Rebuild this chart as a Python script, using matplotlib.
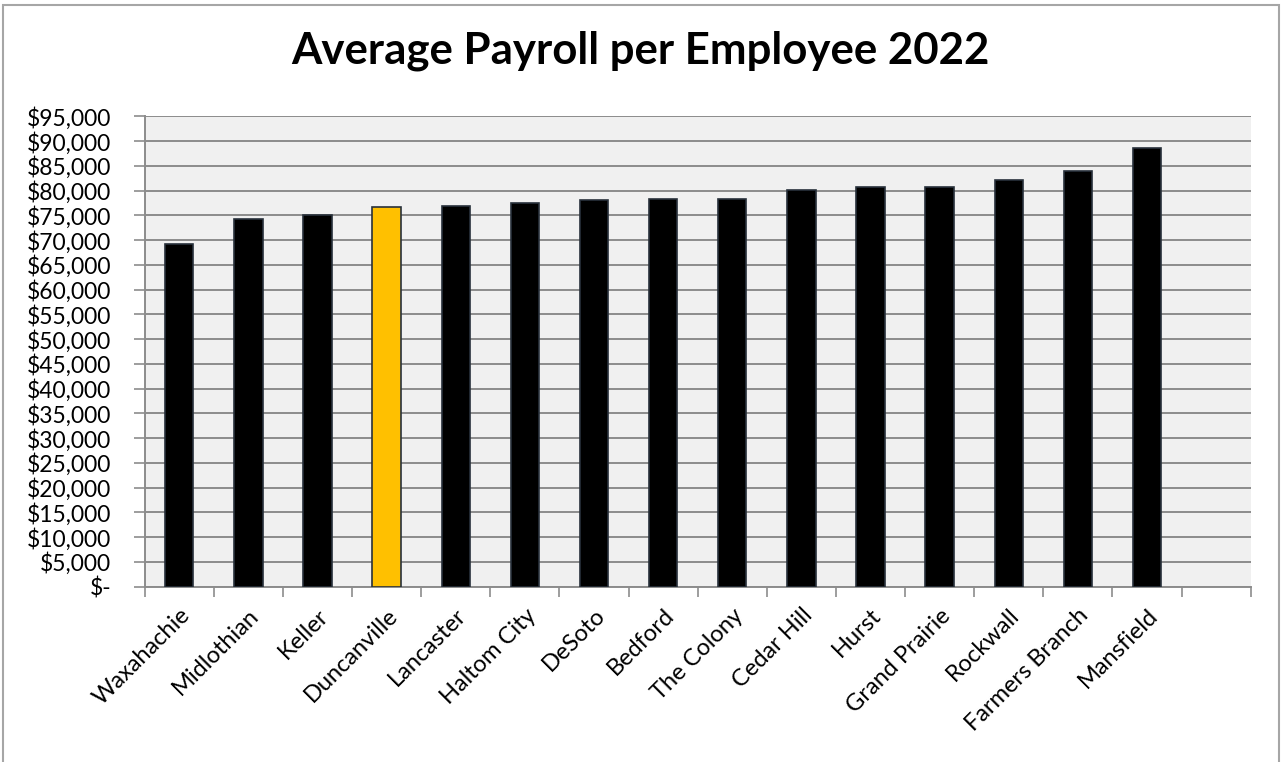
import matplotlib
matplotlib.use("Agg")
import matplotlib.pyplot as plt
from matplotlib.patches import Rectangle
from matplotlib.ticker import FuncFormatter, MultipleLocator
import numpy as np

plt.rcParams['font.family'] = ['Lato', 'DejaVu Sans']

cities = ['Waxahachie', 'Midlothian', 'Keller', 'Duncanville', 'Lancaster',
          'Haltom City', 'DeSoto', 'Bedford', 'The Colony', 'Cedar Hill',
          'Hurst', 'Grand Prairie', 'Rockwall', 'Farmers Branch', 'Mansfield']
payroll = [69200, 74190, 75000, 76620, 76820, 77480, 78030, 78230, 78350,
           80110, 80650, 80780, 82130, 83950, 88530]
highlight = 'Duncanville'

fig = plt.figure(figsize=(12.81, 7.62), dpi=100)
# outer chart border (bottom edge falls outside the picture)
fig.patches.append(Rectangle((3 / 1281, -0.1), 1276 / 1281, 1.1 - 4.5 / 762,
                             transform=fig.transFigure, fill=False,
                             edgecolor='#a6a6a6', linewidth=1.5))

ax = fig.add_axes([0.1130, 0.2301, 0.8633, 0.6173])
ax.set_facecolor('#f0f0f0')

x = np.arange(len(cities))
colors = ['#ffc000' if c == highlight else '#000000' for c in cities]
ax.bar(x, payroll, width=0.41, color=colors, edgecolor='#28313b', linewidth=1.2, zorder=3)

ax.set_xlim(-0.5, len(cities) + 0.5)
ax.set_ylim(0, 95000)
ax.yaxis.set_major_locator(MultipleLocator(5000))
ax.yaxis.set_major_formatter(FuncFormatter(lambda v, p: '$-' if v == 0 else '${:,.0f}'.format(v)))
ax.grid(axis='y', color='#8c8c8c', linewidth=1.4, zorder=1)

ax.set_xticks(x)
ax.set_xticklabels(cities, rotation=45, ha='right', rotation_mode='anchor', fontsize=17)
ax.set_xticks(np.arange(-0.5, len(cities) + 1), minor=True)
ax.tick_params(axis='x', which='major', length=0, pad=13)
ax.tick_params(axis='x', which='minor', length=7, width=1.2, color='#8c8c8c', direction='out')
ax.tick_params(axis='y', length=8, width=1.2, color='#8c8c8c', labelsize=16.5, pad=16)

for s in ['top', 'right']:
    ax.spines[s].set_visible(False)
for s in ['left', 'bottom']:
    ax.spines[s].set_color('#8c8c8c')
    ax.spines[s].set_linewidth(1.4)

fig.text(0.5, 0.934, 'Average Payroll per Employee 2022', ha='center', va='center',
         fontsize=31.5, fontweight='bold')

fig.savefig('out.png', dpi=100)
